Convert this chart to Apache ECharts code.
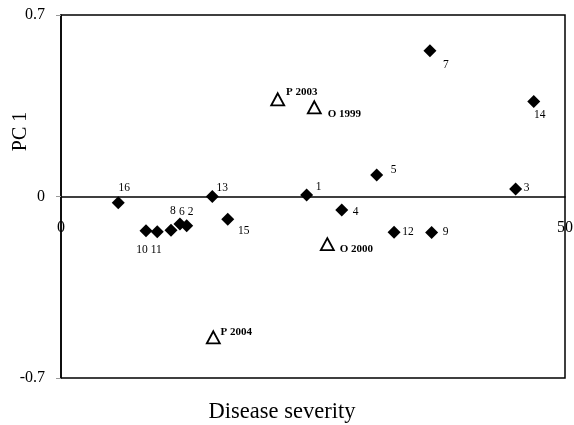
<!DOCTYPE html>
<html>
<head>
<meta charset="utf-8">
<script src="https://cdn.jsdelivr.net/npm/echarts@6/dist/echarts.min.js"></script>
<style>html,body{margin:0;padding:0;background:#fff}#c{width:574px;height:425px}</style>
</head>
<body>
<div id="c"></div>
<script>
// Data
var sampleLabels = ['1','2','3','4','5','6','7','8','9','10','11','12','13','14','15','16'];
var sampleX = [24.37, 12.47, 45.1, 27.85, 31.32, 11.8, 36.6, 10.91, 36.77, 8.43, 9.55, 33.04, 15.01, 46.9, 16.54, 5.68];
var sampleY = [0.006, -0.113, 0.029, -0.052, 0.083, -0.106, 0.562, -0.130, -0.139, -0.132, -0.136, -0.138, 0.0, 0.366, -0.088, -0.024];
var yearLabels = ['P 2003', 'O 1999', 'O 2000', 'P 2004'];
var yearX = [21.5, 25.13, 26.42, 15.11];
var yearY = [0.375, 0.344, -0.184, -0.543];
var xTicks = [0, 50];
var yTicks = [-0.7, 0, 0.7];

// Label offsets (styling)
var sampleOffsets = [[12,-8],[4,-14],[11,-1],[14,2],[17,-5],[2,-12],[16,14],[2,-19],[14,-1],[-4,19],[-1,18],[14,0],[10,-9],[6,13],[16,12],[6,-15]];
var yearOffsets = [[24,-7],[30,7],[29,5],[23,-5]];

var FONT = "'Liberation Serif', 'Times New Roman', serif";

var sampleData = sampleLabels.map(function(n, i){
  return {value:[sampleX[i], sampleY[i]], name:n,
    label:{show:true, position:'inside', offset:sampleOffsets[i], formatter:n,
      color:'#000', fontFamily:FONT, fontSize:11.5, align:'center', verticalAlign:'middle'}};
});
var yearData = yearLabels.map(function(n, i){
  return {value:[yearX[i], yearY[i]], name:n,
    label:{show:true, position:'inside', offset:yearOffsets[i], formatter:n,
      color:'#000', fontFamily:FONT, fontSize:11, fontWeight:'bold', align:'center', verticalAlign:'middle'}};
});

var chart = echarts.init(document.getElementById('c'), null, {renderer:'canvas'});
chart.setOption({
  animation:false,
  backgroundColor:'#fff',
  grid:{left:61, right:9, top:15, bottom:47, show:true, borderColor:'#000', borderWidth:1.5,
    backgroundColor:'transparent', containLabel:false, outerBoundsMode:'none'},
  xAxis:{
    type:'value', min:xTicks[0], max:xTicks[1], interval:50,
    axisLine:{onZero:true, lineStyle:{color:'#000', width:1.5}},
    axisTick:{show:false},
    splitLine:{show:false},
    axisLabel:{color:'#000', fontFamily:FONT, fontSize:16, margin:-158,
      formatter:function(v){ return xTicks.indexOf(v) >= 0 ? String(v) : ''; }},
    name:'Disease severity', nameLocation:'middle', nameGap:23, nameMoveOverlap:false,
    nameTextStyle:{color:'#000', fontFamily:FONT, fontSize:22.5, padding:[0,62,0,0], verticalAlign:'top'}
  },
  yAxis:{
    type:'value', min:yTicks[0], max:yTicks[2], interval:0.7,
    axisLine:{show:true, onZero:true, lineStyle:{color:'#000', width:1.5}},
    axisTick:{show:true, length:5, lineStyle:{color:'#999'}},
    splitLine:{show:false},
    axisLabel:{color:'#000', fontFamily:FONT, fontSize:16, margin:16,
      formatter:function(v){ return v === 0 ? '0' : String(v); }},
    name:'PC 1', nameLocation:'middle', nameGap:30, nameMoveOverlap:false,
    nameTextStyle:{color:'#000', fontFamily:FONT, fontSize:20, padding:[0,0,0,130]}
  },
  series:[
    {type:'scatter', symbol:'diamond', symbolSize:[13,13], data:sampleData,
      itemStyle:{color:'#000', opacity:1}, z:3},
    {type:'scatter', symbol:'triangle', symbolSize:[13,12], data:yearData,
      itemStyle:{color:'#fff', borderColor:'#000', borderWidth:1.8, opacity:1}, z:3}
  ]
});
</script>
</body>
</html>
